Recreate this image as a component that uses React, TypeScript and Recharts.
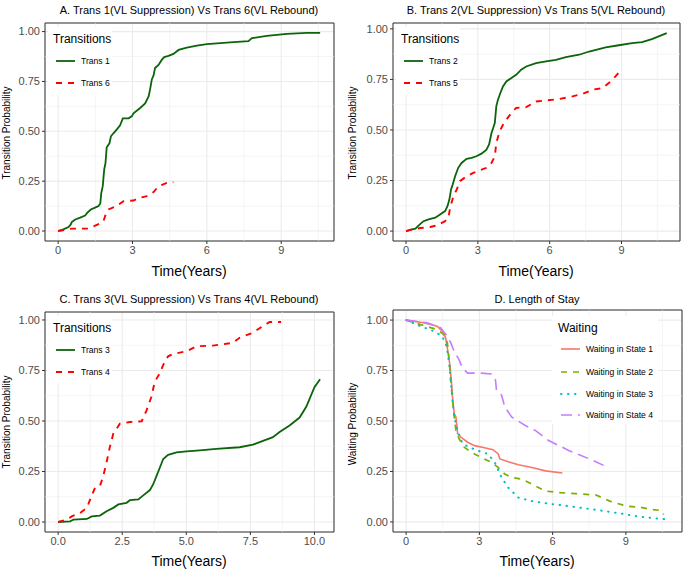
import React from 'react';
import { LineChart, Line, XAxis, YAxis, CartesianGrid, ReferenceLine, ReferenceArea } from 'recharts';

const FONT = '"Liberation Sans", Arial, Helvetica, sans-serif';

// ---------- Data ----------
const trans1T = [0, 0.21, 0.42, 0.51, 0.55, 0.69, 0.89, 1.09, 1.18, 1.32, 1.49, 1.63, 1.7, 1.74, 1.8, 1.86, 1.91, 1.96, 2.07, 2.13, 2.23, 2.37, 2.5, 2.61, 2.84, 2.97, 3.04, 3.31, 3.51, 3.65, 3.71, 3.78, 3.85, 3.91, 4.05, 4.18, 4.28, 4.45, 4.65, 4.86, 5.19, 5.6, 6.0, 6.54, 7.08, 7.68, 7.82, 8.42, 9.23, 10.04, 10.57];
const trans1P = [0, 0.008, 0.02, 0.033, 0.045, 0.058, 0.067, 0.078, 0.092, 0.108, 0.117, 0.125, 0.138, 0.19, 0.225, 0.31, 0.34, 0.42, 0.44, 0.475, 0.49, 0.51, 0.53, 0.565, 0.565, 0.575, 0.59, 0.617, 0.64, 0.675, 0.71, 0.76, 0.78, 0.817, 0.833, 0.858, 0.872, 0.878, 0.888, 0.908, 0.92, 0.93, 0.937, 0.942, 0.947, 0.952, 0.967, 0.978, 0.988, 0.993, 0.993];
const trans6T = [0, 0.35, 0.55, 1.16, 1.36, 1.7, 1.83, 1.94, 2.03, 2.3, 2.44, 2.64, 3.04, 3.31, 3.58, 3.85, 4.05, 4.39, 4.65];
const trans6P = [0, 0.008, 0.012, 0.012, 0.02, 0.038, 0.05, 0.092, 0.108, 0.122, 0.133, 0.15, 0.153, 0.167, 0.175, 0.195, 0.225, 0.242, 0.245];

const trans2T = [0, 0.25, 0.39, 0.53, 0.73, 0.94, 1.22, 1.42, 1.63, 1.73, 1.81, 1.88, 1.95, 2.05, 2.18, 2.32, 2.53, 2.74, 2.94, 3.15, 3.36, 3.47, 3.57, 3.64, 3.71, 3.77, 3.84, 3.94, 4.05, 4.19, 4.4, 4.6, 4.81, 5.02, 5.43, 5.85, 6.26, 6.68, 7.23, 7.65, 8.34, 8.89, 9.44, 9.86, 10.27, 10.89];
const trans2P = [0, 0.008, 0.012, 0.028, 0.049, 0.058, 0.066, 0.082, 0.099, 0.123, 0.156, 0.206, 0.23, 0.271, 0.313, 0.337, 0.357, 0.362, 0.37, 0.383, 0.403, 0.428, 0.485, 0.51, 0.535, 0.617, 0.65, 0.683, 0.715, 0.74, 0.757, 0.773, 0.798, 0.814, 0.831, 0.839, 0.847, 0.86, 0.872, 0.888, 0.908, 0.919, 0.929, 0.934, 0.949, 0.979];
const trans5T = [0, 0.25, 0.59, 1.01, 1.29, 1.63, 1.77, 1.84, 1.98, 2.12, 2.25, 2.53, 2.81, 3.08, 3.36, 3.57, 3.71, 3.77, 3.91, 4.05, 4.19, 4.4, 4.6, 5.02, 5.43, 5.85, 6.4, 6.95, 7.37, 7.78, 8.2, 8.47, 8.75, 9.0];
const trans5P = [0, 0.008, 0.015, 0.02, 0.028, 0.049, 0.066, 0.115, 0.173, 0.206, 0.247, 0.271, 0.288, 0.3, 0.313, 0.337, 0.37, 0.436, 0.493, 0.526, 0.551, 0.584, 0.609, 0.613, 0.641, 0.646, 0.653, 0.666, 0.678, 0.699, 0.707, 0.732, 0.765, 0.798];

const trans3T = [0, 0.47, 0.6, 1.12, 1.31, 1.63, 1.89, 2.15, 2.35, 2.67, 2.8, 3.13, 3.32, 3.58, 3.71, 3.84, 3.97, 4.1, 4.29, 4.62, 5.01, 5.53, 6.17, 7.08, 7.6, 8.38, 8.64, 9.03, 9.42, 9.68, 10.0, 10.22];
const trans3P = [0, 0.003, 0.012, 0.015, 0.028, 0.032, 0.053, 0.07, 0.087, 0.095, 0.108, 0.112, 0.132, 0.158, 0.187, 0.228, 0.27, 0.312, 0.332, 0.345, 0.35, 0.355, 0.362, 0.37, 0.383, 0.42, 0.445, 0.478, 0.517, 0.57, 0.667, 0.707];
const trans4T = [0, 0.34, 0.53, 0.86, 1.12, 1.25, 1.44, 1.63, 1.76, 1.89, 2.0, 2.15, 2.41, 2.8, 3.26, 3.45, 3.64, 3.77, 3.97, 4.1, 4.29, 4.49, 5.01, 5.4, 6.04, 6.82, 7.08, 7.6, 7.99, 8.25, 8.7];
const trans4P = [0, 0.012, 0.028, 0.045, 0.07, 0.112, 0.17, 0.178, 0.228, 0.295, 0.362, 0.437, 0.487, 0.495, 0.498, 0.553, 0.62, 0.695, 0.737, 0.778, 0.82, 0.832, 0.845, 0.87, 0.873, 0.887, 0.912, 0.937, 0.97, 0.99, 0.99];

const state1T = [0, 0.72, 1.27, 1.48, 1.62, 1.72, 1.8, 1.86, 1.91, 1.97, 2.04, 2.11, 2.24, 2.52, 2.8, 3.21, 3.56, 3.77, 3.84, 4.18, 4.6, 5.15, 5.71, 6.4];
const state1P = [1, 0.987, 0.97, 0.945, 0.912, 0.837, 0.77, 0.687, 0.603, 0.537, 0.52, 0.437, 0.42, 0.395, 0.378, 0.367, 0.358, 0.337, 0.312, 0.298, 0.283, 0.27, 0.253, 0.242];
const state2T = [0, 0.58, 1.27, 1.55, 1.69, 1.76, 1.83, 1.9, 1.97, 2.04, 2.17, 2.38, 2.66, 3.07, 3.49, 3.77, 4.04, 4.32, 4.74, 5.15, 5.71, 6.26, 6.95, 7.78, 8.34, 9.03, 9.58, 10.0, 10.42, 10.55];
const state2P = [1, 0.978, 0.953, 0.928, 0.887, 0.803, 0.703, 0.603, 0.52, 0.453, 0.412, 0.37, 0.345, 0.32, 0.295, 0.27, 0.237, 0.22, 0.212, 0.187, 0.153, 0.145, 0.14, 0.133, 0.103, 0.078, 0.073, 0.062, 0.057, 0.037];
const state3T = [0, 0.58, 1.14, 1.48, 1.66, 1.76, 1.86, 1.97, 2.11, 2.31, 2.59, 2.94, 3.35, 3.63, 3.91, 4.18, 4.6, 5.15, 5.84, 6.68, 7.65, 8.61, 9.45, 10.28, 10.76];
const state3P = [1, 0.97, 0.945, 0.92, 0.87, 0.787, 0.653, 0.52, 0.453, 0.387, 0.37, 0.353, 0.337, 0.295, 0.22, 0.17, 0.12, 0.103, 0.09, 0.078, 0.062, 0.045, 0.028, 0.017, 0.012];
const state4T = [0, 0.86, 1.41, 1.69, 1.83, 1.97, 2.17, 2.31, 2.52, 3.07, 3.49, 3.66, 3.7, 3.91, 4.04, 4.32, 4.88, 5.29, 5.84, 6.68, 7.51, 8.27];
const state4P = [1, 0.987, 0.962, 0.92, 0.887, 0.845, 0.803, 0.762, 0.737, 0.737, 0.733, 0.703, 0.653, 0.628, 0.57, 0.52, 0.478, 0.453, 0.403, 0.353, 0.312, 0.27];

const yTicks = [0, 0.25, 0.5, 0.75, 1];
const yMinor = [0.125, 0.375, 0.625, 0.875];
const xTicks3 = [0, 3, 6, 9];
const xMinor3 = [1.5, 4.5, 7.5, 10.5];
const xTicks25 = [0, 2.5, 5, 7.5, 10];
const xMinor25 = [1.25, 3.75, 6.25, 8.75];

const titles = [
  'A. Trans 1(VL Suppression) Vs Trans 6(VL Rebound)',
  'B. Trans 2(VL Suppression) Vs Trans 5(VL Rebound)',
  'C. Trans 3(VL Suppression) Vs Trans 4(VL Rebound)',
  'D. Length of Stay',
];

const GREEN = '#0b640b';
const RED = '#ff0000';

type Series = { name: string; t: number[]; p: number[]; color: string; dash?: string; width: number; cap?: 'round' | 'butt' };

const rows = (t: number[], p: number[]) => t.map((x, i) => ({ t: x, p: p[i] }));

type Cfg = {
  left: number; top: number; w: number; h: number;
  x0: number; x1: number; y0: number; y1: number;
  xDomain: [number, number]; yDomain: [number, number];
  xTicks: number[]; xMinor: number[]; xFmt: (v: number) => string;
  series: Series[];
};

const fmt0 = (v: number) => String(v);
const fmt1 = (v: number) => v.toFixed(1);

const panels: Cfg[] = [
  {
    left: 0, top: 0, w: 342, h: 285, x0: 45, x1: 334, y0: 23, y1: 241,
    xDomain: [-0.53, 11.13], yDomain: [-0.05, 1.043], xTicks: xTicks3, xMinor: xMinor3, xFmt: fmt0,
    series: [
      { name: 'Trans 1', t: trans1T, p: trans1P, color: GREEN, width: 1.8 },
      { name: 'Trans 6', t: trans6T, p: trans6P, color: RED, dash: '6 6', width: 1.9 },
    ],
  },
  {
    left: 342, top: 0, w: 343, h: 285, x0: 51, x1: 338, y0: 23, y1: 241,
    xDomain: [-0.545, 11.445], yDomain: [-0.049, 1.029], xTicks: xTicks3, xMinor: xMinor3, xFmt: fmt0,
    series: [
      { name: 'Trans 2', t: trans2T, p: trans2P, color: GREEN, width: 1.8 },
      { name: 'Trans 5', t: trans5T, p: trans5P, color: RED, dash: '6 6', width: 1.9 },
    ],
  },
  {
    left: 0, top: 285, w: 342, h: 285, x0: 45, x1: 334, y0: 27, y1: 247,
    xDomain: [-0.5125, 10.7625], yDomain: [-0.0495, 1.0395], xTicks: xTicks25, xMinor: xMinor25, xFmt: fmt1,
    series: [
      { name: 'Trans 3', t: trans3T, p: trans3P, color: GREEN, width: 1.8 },
      { name: 'Trans 4', t: trans4T, p: trans4P, color: RED, dash: '6 6', width: 1.9 },
    ],
  },
  {
    left: 342, top: 285, w: 343, h: 285, x0: 51, x1: 340, y0: 25, y1: 247,
    xDomain: [-0.538, 11.3], yDomain: [-0.05, 1.05], xTicks: xTicks3, xMinor: xMinor3, xFmt: fmt0,
    series: [
      { name: 'Waiting in State 1', t: state1T, p: state1P, color: '#F8766D', width: 1.6 },
      { name: 'Waiting in State 2', t: state2T, p: state2P, color: '#7CAE00', dash: '6 6', width: 1.7 },
      { name: 'Waiting in State 3', t: state3T, p: state3P, color: '#00BFC4', dash: '0.5 6.5', width: 2, cap: 'round' },
      { name: 'Waiting in State 4', t: state4T, p: state4P, color: '#C77CFF', dash: '11 6', width: 1.6 },
    ],
  },
];

const tickStyle = { fontSize: 11, fill: '#4D4D4D', fontFamily: FONT };

function Panel({ cfg }: { cfg: Cfg }) {
  const { left, top, w, h, x0, x1, y0, y1, xDomain, yDomain, xTicks, xMinor, xFmt, series } = cfg;
  return (
    <div style={{ position: 'absolute', left, top, width: w, height: h }}>
      <LineChart width={w} height={h} margin={{ top: y0, right: w - x1, bottom: 0, left: 0 }}>
        {xMinor.map((v) => (
          <ReferenceLine key={'mx' + v} x={v} stroke="#EFEFEF" strokeWidth={0.6} />
        ))}
        {yMinor.map((v) => (
          <ReferenceLine key={'my' + v} y={v} stroke="#EFEFEF" strokeWidth={0.6} />
        ))}
        <CartesianGrid stroke="#EBEBEB" strokeWidth={1.1} />
        <XAxis
          type="number" dataKey="t" domain={xDomain} ticks={xTicks} tickFormatter={xFmt}
          allowDataOverflow interval={0} height={h - y1} axisLine={false}
          tickLine={{ stroke: '#333333' }} tickSize={3} tickMargin={2} tick={tickStyle}
        />
        <YAxis
          type="number" dataKey="p" domain={yDomain} ticks={yTicks} tickFormatter={(v: number) => v.toFixed(2)}
          allowDataOverflow interval={0} width={x0} axisLine={false}
          tickLine={{ stroke: '#333333' }} tickSize={3} tickMargin={2} tick={tickStyle}
        />
        {series.map((s) => (
          <Line
            key={s.name} data={rows(s.t, s.p)} dataKey="p" type="linear"
            stroke={s.color} strokeWidth={s.width} strokeDasharray={s.dash} strokeLinecap={s.cap || 'butt'}
            dot={false} activeDot={false} isAnimationActive={false} legendType="none"
          />
        ))}
        <ReferenceArea
          x1={xDomain[0]} x2={xDomain[1]} y1={yDomain[0]} y2={yDomain[1]}
          fill="none" fillOpacity={0} stroke="#333333" strokeWidth={1} ifOverflow="visible"
        />
      </LineChart>
    </div>
  );
}

function CText({ x, y, size, children, rotate, color }: { x: number; y: number; size: number; children: React.ReactNode; rotate?: boolean; color?: string }) {
  return (
    <div
      style={{
        position: 'absolute', left: x, top: y, fontSize: size, lineHeight: 1, whiteSpace: 'nowrap',
        color: color || '#000', transform: `translate(-50%, -50%)${rotate ? ' rotate(-90deg)' : ''}`,
      }}
    >
      {children}
    </div>
  );
}

function LegendBox({ x, y, w, h, title, titleY, lineX, textX, itemYs, series }: {
  x: number; y: number; w: number; h: number; title: string; titleY: number; lineX: number; textX: number; itemYs: number[]; series: Series[];
}) {
  return (
    <div style={{ position: 'absolute', left: x, top: y, width: w, height: h, background: '#fff' }}>
      <div style={{ position: 'absolute', left: lineX - x - 2, top: titleY - y, transform: 'translateY(-50%)', fontSize: 12, lineHeight: 1, whiteSpace: 'nowrap', color: '#000' }}>
        {title}
      </div>
      {series.map((s, i) => (
        <React.Fragment key={s.name}>
          <svg style={{ position: 'absolute', left: lineX - x, top: itemYs[i] - y - 3 }} width={20} height={6}>
            <line x1={1} y1={3} x2={20} y2={3} stroke={s.color} strokeWidth={s.width} strokeDasharray={s.dash} strokeLinecap={s.cap || 'butt'} />
          </svg>
          <div style={{ position: 'absolute', left: textX - x, top: itemYs[i] - y, transform: 'translateY(-50%)', fontSize: 8.6, lineHeight: 1, whiteSpace: 'nowrap', color: '#000' }}>
            {s.name}
          </div>
        </React.Fragment>
      ))}
    </div>
  );
}

export default function App() {
  return (
    <div style={{ position: 'absolute', left: 0, top: 0, width: 685, height: 570, background: '#fff', fontFamily: FONT, overflow: 'hidden' }}>
      {panels.map((p, i) => (
        <Panel key={i} cfg={p} />
      ))}
      <CText x={189} y={10} size={11}>{titles[0]}</CText>
      <CText x={536} y={10} size={11}>{titles[1]}</CText>
      <CText x={189} y={299} size={11}>{titles[2]}</CText>
      <CText x={537} y={299} size={11}>{titles[3]}</CText>

      <CText x={189} y={271} size={14}>Time(Years)</CText>
      <CText x={536} y={271} size={14}>Time(Years)</CText>
      <CText x={189} y={561} size={14}>Time(Years)</CText>
      <CText x={537} y={561} size={14}>Time(Years)</CText>

      <CText x={7} y={133} size={10} rotate>Transition Probability</CText>
      <CText x={353} y={133} size={10} rotate>Transition Probability</CText>
      <CText x={7} y={422} size={10} rotate>Transition Probability</CText>
      <CText x={353} y={424} size={10} rotate>Waiting Probability</CText>

      <LegendBox x={48} y={27} w={64} h={68} title="Transitions" titleY={39} lineX={55} textX={81} itemYs={[61, 83]} series={panels[0].series} />
      <LegendBox x={396} y={27} w={64} h={68} title="Transitions" titleY={39} lineX={403} textX={429} itemYs={[61, 83]} series={panels[1].series} />
      <LegendBox x={48} y={316} w={64} h={68} title="Transitions" titleY={328} lineX={55} textX={81} itemYs={[350, 372]} series={panels[2].series} />
      <LegendBox x={552} y={316} w={106} h={108} title="Waiting" titleY={328} lineX={560} textX={586} itemYs={[349, 371.5, 393.5, 415]} series={panels[3].series} />
    </div>
  );
}
